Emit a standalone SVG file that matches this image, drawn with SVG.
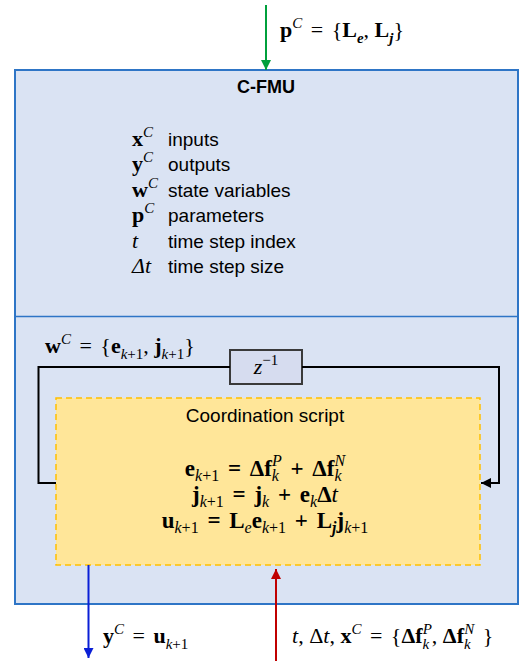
<svg xmlns="http://www.w3.org/2000/svg" width="528" height="661" viewBox="0 0 528 661">
<defs>
<style>
.t{font-family:"Liberation Sans",Arial,sans-serif;font-size:19px;fill:#000}
.h{font-weight:bold;font-size:18px}
.m{font-family:"Liberation Serif","Times New Roman",serif;font-size:22px;fill:#000;word-spacing:3px}
.q{font-size:23px}
.q .s{font-size:16px}
.c{word-spacing:0}
.b{font-weight:bold}
.i{font-style:italic}
.n{font-weight:normal}
.s{font-size:15px}
.ln{fill:none;stroke-width:2}
</style>
<marker id="ag" markerUnits="userSpaceOnUse" markerWidth="10" markerHeight="10" refX="10" refY="5" orient="auto"><path d="M0,0 L10,5 L0,10 z" fill="#00a03c"/></marker>
<marker id="ab" markerUnits="userSpaceOnUse" markerWidth="10" markerHeight="10" refX="10" refY="5" orient="auto"><path d="M0,0 L10,5 L0,10 z" fill="#0a1fd6"/></marker>
<marker id="ar" markerUnits="userSpaceOnUse" markerWidth="10" markerHeight="10" refX="10" refY="5" orient="auto"><path d="M0,0 L10,5 L0,10 z" fill="#c00000"/></marker>
<marker id="ak" markerUnits="userSpaceOnUse" markerWidth="10" markerHeight="10" refX="10" refY="5" orient="auto"><path d="M0,0 L10,5 L0,10 z" fill="#000"/></marker>
</defs>

<g id="cfmu">
<rect x="15" y="70" width="503" height="534" fill="#dae3f3" stroke="#2e75c6" stroke-width="2"/>
<line x1="15" y1="316.5" x2="518" y2="316.5" stroke="#2e75c6" stroke-width="1.5"/>
<text class="t h" x="266" y="93" text-anchor="middle">C-FMU</text>
<text class="m b" x="132" y="146">x<tspan class="s i n" dy="-9">C</tspan></text>
<text class="t" x="168" y="146">inputs</text>
<text class="m b" x="132" y="171">y<tspan class="s i n" dy="-9">C</tspan></text>
<text class="t" x="168" y="171">outputs</text>
<text class="m b" x="132" y="197">w<tspan class="s i n" dy="-9">C</tspan></text>
<text class="t" x="168" y="197">state variables</text>
<text class="m b" x="132" y="222">p<tspan class="s i n" dy="-9">C</tspan></text>
<text class="t" x="168" y="222">parameters</text>
<text class="m i" x="132" y="248">t</text>
<text class="t" x="168" y="248">time step index</text>
<text class="m i" x="132" y="273">Δt</text>
<text class="t" x="168" y="273">time step size</text>
<text class="m" x="45" y="353"><tspan class="b">w</tspan><tspan class="s i" dy="-9">C</tspan><tspan dy="9"> = {</tspan><tspan class="b">e</tspan><tspan class="s" dy="6"><tspan class="i">k</tspan>+1</tspan><tspan class="c" dy="-6">, </tspan><tspan class="b">j</tspan><tspan class="s" dy="6"><tspan class="i">k</tspan>+1</tspan><tspan dy="-6">}</tspan></text>
</g>

<g id="coord">
<rect x="56" y="398" width="424" height="167" fill="#ffe699" stroke="#ffc000" stroke-width="1.5" stroke-dasharray="6,4"/>
<text class="t" x="265" y="422" text-anchor="middle">Coordination script</text>
<text class="m q b" x="265" y="476" text-anchor="middle">e<tspan class="s n" dy="5"><tspan class="i">k</tspan>+1</tspan><tspan dy="-5"> = Δf</tspan><tspan class="s n i" dy="5">k</tspan><tspan class="s n i" dx="-7" dy="-15">P</tspan><tspan dy="10"> + Δf</tspan><tspan class="s n i" dy="5">k</tspan><tspan class="s n i" dx="-7" dy="-15">N</tspan></text>
<text class="m q b" x="265" y="502" text-anchor="middle">j<tspan class="s n" dy="5"><tspan class="i">k</tspan>+1</tspan><tspan dy="-5"> = j</tspan><tspan class="s n i" dy="5">k</tspan><tspan dy="-5"> + e</tspan><tspan class="s n i" dy="5">k</tspan><tspan dy="-5">Δ</tspan><tspan class="n i">t</tspan></text>
<text class="m q b" x="265" y="528" text-anchor="middle">u<tspan class="s n" dy="5"><tspan class="i">k</tspan>+1</tspan><tspan dy="-5"> = L</tspan><tspan class="s n i" dy="5">e</tspan><tspan dy="-5">e</tspan><tspan class="s n" dy="5"><tspan class="i">k</tspan>+1</tspan><tspan dy="-5"> + L</tspan><tspan class="s i" dy="5">j</tspan><tspan dy="-5">j</tspan><tspan class="s n" dy="5"><tspan class="i">k</tspan>+1</tspan></text>
</g>

<g id="zdelay">
<rect x="230" y="350" width="72" height="34" fill="#d6dcef" stroke="#3a3a3a" stroke-width="2"/>
<text class="m" x="266" y="374" text-anchor="middle"><tspan class="i">z</tspan><tspan class="s" dy="-9">−1</tspan></text>
</g>

<g id="connectors">
<path class="ln" d="M230,367 H38.5 V483 H56" stroke="#000"/>
<path class="ln" d="M302,367 H499 V483 H481" stroke="#000" marker-end="url(#ak)"/>
<line class="ln" x1="266" y1="5" x2="266" y2="70" stroke="#00a03c" marker-end="url(#ag)"/>
<line class="ln" x1="88.5" y1="565" x2="88.5" y2="658" stroke="#0a1fd6" marker-end="url(#ab)"/>
<line class="ln" x1="276" y1="661" x2="276" y2="569" stroke="#c00000" marker-end="url(#ar)"/>
</g>

<g id="labels">
<text class="m" x="280" y="37"><tspan class="b">p</tspan><tspan class="s i" dy="-9">C</tspan><tspan dy="9"> = {</tspan><tspan class="b">L</tspan><tspan class="s i b" dy="6">e</tspan><tspan class="c" dy="-6">, </tspan><tspan class="b">L</tspan><tspan class="s i b" dy="6">j</tspan><tspan dy="-6">}</tspan></text>
<text class="m" x="103" y="643"><tspan class="b">y</tspan><tspan class="s i" dy="-9">C</tspan><tspan dy="9"> = </tspan><tspan class="b">u</tspan><tspan class="s" dy="6"><tspan class="i">k</tspan>+1</tspan></text>
<text class="m" x="292" y="643"><tspan class="i">t</tspan><tspan class="c">, Δ</tspan><tspan class="i">t</tspan><tspan class="c">, </tspan><tspan class="b">x</tspan><tspan class="s i" dy="-9">C</tspan><tspan dy="9"> = {</tspan><tspan class="b">Δf</tspan><tspan class="s i" dy="6">k</tspan><tspan class="s i" dx="-6.5" dy="-15">P</tspan><tspan class="c" dy="9">, </tspan><tspan class="b">Δf</tspan><tspan class="s i" dy="6">k</tspan><tspan class="s i" dx="-6.5" dy="-15">N</tspan><tspan dy="9"> }</tspan></text>
</g>
</svg>
